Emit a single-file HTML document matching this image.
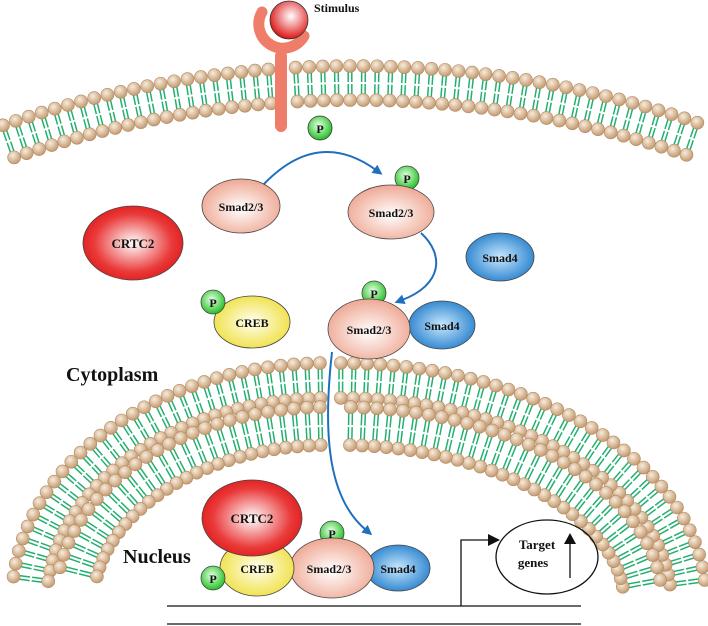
<!DOCTYPE html>
<html><head><meta charset="utf-8"><style>
html,body{margin:0;padding:0;background:#fff}
svg{display:block}
text{font-family:"Liberation Serif",serif;font-weight:bold;fill:#111}
</style></head><body>
<svg id="s" width="708" height="626" viewBox="0 0 708 626" xmlns="http://www.w3.org/2000/svg">
<defs>
<radialGradient id="head" cx="40%" cy="35%" r="65%"><stop offset="0" stop-color="#f8ecdc"/><stop offset="1" stop-color="#c49a70"/></radialGradient>
<radialGradient id="gS" cx="50%" cy="55%" r="60%"><stop offset="0" stop-color="#fff"/><stop offset="1" stop-color="#eda08a"/></radialGradient>
<radialGradient id="gR" cx="50%" cy="50%" r="60%"><stop offset="0" stop-color="#fff"/><stop offset="0.65" stop-color="#ea3a3a"/><stop offset="1" stop-color="#dd0f0f"/></radialGradient>
<radialGradient id="gY" cx="50%" cy="50%" r="60%"><stop offset="0" stop-color="#fffff0"/><stop offset="1" stop-color="#eedd33"/></radialGradient>
<radialGradient id="gB" cx="50%" cy="50%" r="60%"><stop offset="0" stop-color="#c8e8ff"/><stop offset="1" stop-color="#1a78c8"/></radialGradient>
<radialGradient id="gP" cx="45%" cy="40%" r="60%"><stop offset="0" stop-color="#e8ffe8"/><stop offset="1" stop-color="#22c022"/></radialGradient>
<radialGradient id="gBall" cx="55%" cy="40%" r="60%"><stop offset="0" stop-color="#fff"/><stop offset="1" stop-color="#dd1515"/></radialGradient>
<marker id="ah" markerWidth="10" markerHeight="10" refX="2" refY="5" orient="auto" markerUnits="userSpaceOnUse"><path d="M0,0 L10,5 L0,10 z" fill="#1f6fbf"/></marker>
</defs>
<g id="mem"></g>
<!-- receptor -->
<rect x="275" y="50" width="12" height="82" rx="6" fill="#ee7e6a"/>
<path d="M262,12 A21,21 0 0,0 304,36" fill="none" stroke="#ee7e6a" stroke-width="11" stroke-linecap="round"/>
<circle cx="289" cy="20" r="19" fill="url(#gBall)" stroke="#333" stroke-width="0.8"/>
<text x="314" y="12" font-size="12">Stimulus</text>
<!-- P free -->
<circle cx="320" cy="128" r="12" fill="url(#gP)" stroke="#333" stroke-width="0.8"/><text x="320" y="133" font-size="12" text-anchor="middle">P</text>
<!-- arrows -->
<g fill="none" stroke="#1f6fbf" stroke-width="2">
<path d="M264,184 Q318,128 376,170" marker-end="url(#ah)"/>
<path d="M421,233 C445,255 442,285 402,300" marker-end="url(#ah)"/>
<path d="M332,352 C322,440 330,500 366,530" marker-end="url(#ah)"/>
</g>
<g stroke="#444" stroke-width="0.8">
<ellipse cx="241" cy="206" rx="39" ry="27" fill="url(#gS)"/>
<ellipse cx="133" cy="243" rx="50" ry="37" fill="url(#gR)"/>
<ellipse cx="252" cy="322" rx="38" ry="26" fill="url(#gY)"/>
<circle cx="213" cy="302" r="12" fill="url(#gP)"/>
<circle cx="407" cy="178" r="12" fill="url(#gP)"/>
<ellipse cx="391" cy="212" rx="43" ry="27" fill="url(#gS)"/>
<ellipse cx="500" cy="257" rx="34" ry="24" fill="url(#gB)"/>
<ellipse cx="442" cy="325" rx="33" ry="24" fill="url(#gB)"/>
<circle cx="374" cy="293" r="12" fill="url(#gP)"/>
<ellipse cx="369" cy="329" rx="41" ry="30" fill="url(#gS)"/>
<!-- nucleus -->
<ellipse cx="398" cy="568" rx="32" ry="23" fill="url(#gB)"/>
<circle cx="332" cy="533" r="12" fill="url(#gP)"/>
<ellipse cx="332" cy="568" rx="42" ry="30" fill="url(#gS)"/>
<ellipse cx="257" cy="568" rx="37" ry="28" fill="url(#gY)"/>
<ellipse cx="252" cy="518" rx="50" ry="38" fill="url(#gR)"/>
<circle cx="213" cy="578" r="12" fill="url(#gP)"/>
</g>
<g font-size="12" text-anchor="middle">
<text x="241" y="211">Smad2/3</text>
<text x="133" y="248" font-size="13">CRTC2</text>
<text x="252" y="327">CREB</text>
<text x="213" y="307">P</text>
<text x="407" y="183">P</text>
<text x="391" y="217">Smad2/3</text>
<text x="500" y="262">Smad4</text>
<text x="442" y="330">Smad4</text>
<text x="374" y="298">P</text>
<text x="369" y="334">Smad2/3</text>
<text x="398" y="573">Smad4</text>
<text x="332" y="538">P</text>
<text x="329" y="573">Smad2/3</text>
<text x="257" y="573">CREB</text>
<text x="252" y="523" font-size="13">CRTC2</text>
<text x="213" y="583">P</text>
</g>
<text x="66" y="381" font-size="20">Cytoplasm</text>
<text x="123" y="563" font-size="20">Nucleus</text>
<!-- DNA -->
<g stroke="#111" stroke-width="1.3" fill="none">
<line x1="167" y1="606" x2="581" y2="606"/>
<line x1="167" y1="624" x2="581" y2="624"/>
<path d="M461,606 V540 H490"/>
<ellipse cx="547" cy="557" rx="51" ry="37"/>
<line x1="570" y1="578" x2="570" y2="542"/>
</g>
<path d="M488,534 L500,540 L488,546 z" fill="#111"/>
<path d="M564,544 L570,533 L576,544 z" fill="#111"/>
<text x="537" y="549" font-size="13" text-anchor="middle">Target</text>
<text x="533" y="567" font-size="13" text-anchor="middle">genes</text>
</svg>
<script>
(function(){
var g=document.getElementById('mem'),tails='',heads='';
function lipid(x1,y1,x2,y2){
 var dx=x2-x1,dy=y2-y1,L=Math.sqrt(dx*dx+dy*dy),ux=dx/L,uy=dy/L,px=-uy*1.8,py=ux*1.8;
 var mx=(x1+x2)/2,my=(y1+y2)/2;
 [1,-1].forEach(function(k){
  tails+='<line x1="'+(x1+px*k)+'" y1="'+(y1+py*k)+'" x2="'+(mx-ux+px*k)+'" y2="'+(my-uy+py*k)+'"/>';
  tails+='<line x1="'+(mx+ux+px*k)+'" y1="'+(my+uy+py*k)+'" x2="'+(x2+px*k)+'" y2="'+(y2+py*k)+'"/>';
 });
 heads+='<circle cx="'+x1+'" cy="'+y1+'" r="6.5"/><circle cx="'+x2+'" cy="'+y2+'" r="6.5"/>';
}
// plasma membrane
var cx=354,cy=1135,R=1069,th=34,step=13.6/R;
for(var a=-0.36;a<=0.36;a+=step){
 var sx=Math.sin(a),cz=Math.cos(a);
 var x1=cx+R*sx,y1=cy-R*cz,x2=cx+(R-th)*sx,y2=cy-(R-th)*cz;
 if(x1<0||x1>708) continue;
 if(Math.abs(x1-281)<9) continue;
 lipid(x1,y1,x2,y2);
}
// nuclear envelope: two halves with different ellipses
var ey=600,ry=237;
function bilayer(ex,rx,t0,t1,d0,th,side){
 function pt(t,d){var nx=ry*Math.cos(t),ny=-rx*Math.sin(t),n=Math.sqrt(nx*nx+ny*ny);nx/=n;ny/=n;
  return [ex+rx*Math.cos(t)-d*nx, ey-ry*Math.sin(t)-d*ny];}
 var acc=13,prev=pt(t0,d0);
 for(var t=t0;t<t1;t+=0.0005){
  var p=pt(t,d0),dd=Math.hypot(p[0]-prev[0],p[1]-prev[1]);acc+=dd;prev=p;
  if(acc>=13){
   if(p[1]>580) continue;
   if(side>0 && p[0]<339){acc=13;continue;}
   if(side<0 && p[0]>320){acc=13;continue;}
   acc=0;var q=pt(t,d0+th);lipid(p[0],p[1],q[0],q[1]);
  }
 }
}
bilayer(340,366,0.02,Math.PI/2,0,35,1);bilayer(340,366,0.02,Math.PI/2,44,38,1);
bilayer(328,316,Math.PI/2,Math.PI-0.02,0,35,-1);bilayer(328,316,Math.PI/2,Math.PI-0.02,44,38,-1);
g.innerHTML='<g stroke="#22b070" stroke-width="1.5">'+tails+'</g><g fill="url(#head)" stroke="#b08a62" stroke-width="0.6">'+heads+'</g>';
})();
</script>
</body></html>
